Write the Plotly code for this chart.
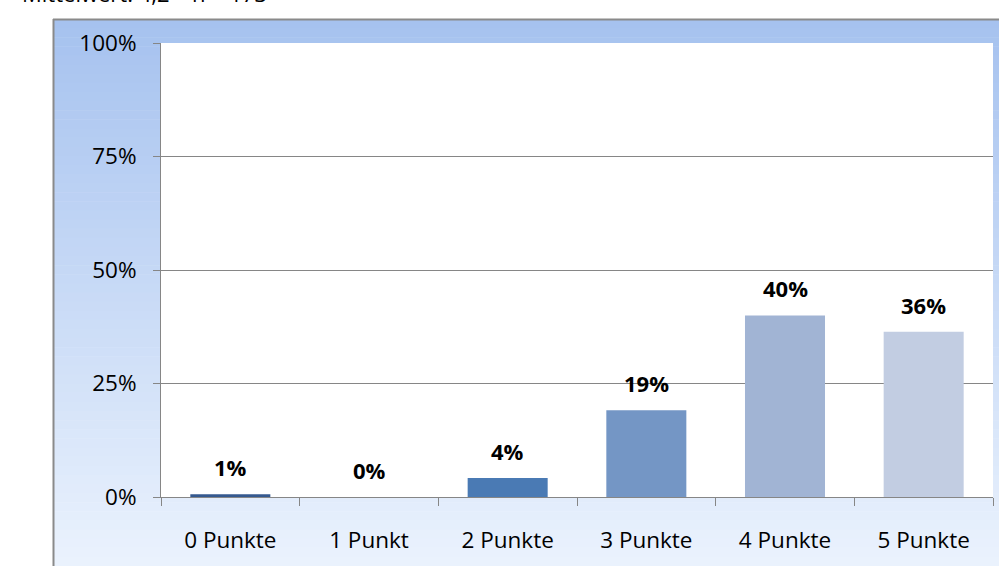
import plotly.graph_objects as go

categories = ["0 Punkte", "1 Punkt", "2 Punkte", "3 Punkte", "4 Punkte", "5 Punkte"]
values = [0.6, 0.0, 4.2, 19.1, 40.0, 36.4]
bar_colors = ["#35598f", "#4a7ab4", "#4a7ab4", "#7496c5", "#a1b4d4", "#c2cde2"]
y_ticks = [0, 25, 50, 75, 100]
y_tick_labels = ["0%", "25%", "50%", "75%", "100%"]
header_text = "Mittelwert: 4,2 \u2013 n = 173"

W, H = 999, 566
L, R, T, B = 161, 6, 43, 69
pw = W - L - R
ph = H - T - B

def px_x(p):
    return (p - L) / pw

def px_y(p):
    return (H - B - p) / ph

FONT = "Open Sans"
TICK_SIZE = 22.5

fig = go.Figure()
fig.add_trace(go.Bar(
    x=categories, y=values,
    marker=dict(color=bar_colors, line=dict(width=0)),
    width=0.577,
    hoverinfo="skip",
))

annotations = []
for c, v in zip(categories, values):
    annotations.append(dict(
        x=c, y=v, xref="x", yref="y", text="<b>%d%%</b>" % round(v),
        showarrow=False, yanchor="middle", yshift=27,
        font=dict(family=FONT, size=22, color="#000000"),
    ))
annotations.append(dict(
    x=px_x(20), y=px_y(-7.5), xref="paper", yref="paper", text=header_text,
    showarrow=False, xanchor="left", yanchor="middle",
    font=dict(family=FONT, size=22, color="#000000"),
))

# background gradient bands
shapes = []
top_c = (0xa6, 0xc2, 0xef)
bot_c = (0xea, 0xf2, 0xfd)
n = 60
y_top, y_bot = 19, 566
for i in range(n):
    t = i / (n - 1)
    col = tuple(int(round(top_c[k] + (bot_c[k] - top_c[k]) * t)) for k in range(3))
    p0 = y_top + (y_bot - y_top) * i / n
    p1 = y_top + (y_bot - y_top) * (i + 1) / n + 0.5
    shapes.append(dict(
        type="rect", xref="paper", yref="paper",
        x0=px_x(53), x1=px_x(1005), y0=px_y(p1), y1=px_y(p0),
        fillcolor="rgb(%d,%d,%d)" % col, line=dict(width=0), layer="below",
    ))
# plot area white
shapes.append(dict(type="rect", xref="paper", yref="paper", x0=0, x1=1, y0=0, y1=1,
                   fillcolor="#ffffff", line=dict(width=0), layer="below"))
# chart area border
shapes.append(dict(type="line", xref="paper", yref="paper",
                   x0=px_x(53), x1=px_x(1005), y0=px_y(19.5), y1=px_y(19.5),
                   line=dict(color="#8a8a8a", width=2), layer="above"))
shapes.append(dict(type="line", xref="paper", yref="paper",
                   x0=px_x(53.5), x1=px_x(53.5), y0=px_y(19), y1=px_y(570),
                   line=dict(color="#8a8a8a", width=2), layer="above"))

fig.update_layout(
    width=W, height=H,
    margin=dict(l=L, r=R, t=T, b=B, pad=0),
    paper_bgcolor="#ffffff",
    plot_bgcolor="rgba(0,0,0,0)",
    showlegend=False,
    bargap=0.423,
    annotations=annotations,
    shapes=shapes,
    font=dict(family=FONT, size=20, color="#000000"),
    xaxis=dict(
        type="category", categoryorder="array", categoryarray=categories,
        showgrid=False, showline=True, linecolor="#868686", linewidth=1,
        ticks="outside", tickson="boundaries", ticklen=8, tickcolor="#868686",
        tickfont=dict(family=FONT, size=TICK_SIZE, color="#000000"),
        ticklabelstandoff=23, zeroline=False,
    ),
    yaxis=dict(
        range=[0, 100], tickmode="array", tickvals=y_ticks, ticktext=y_tick_labels,
        showgrid=True, gridcolor="#868686", gridwidth=1,
        showline=True, linecolor="#868686", linewidth=1,
        ticks="outside", ticklen=7, tickcolor="#868686",
        tickfont=dict(family=FONT, size=TICK_SIZE, color="#000000"),
        ticklabelstandoff=12, zeroline=False,
    ),
)

fig.write_html(
    "out.html",
    config={"displayModeBar": False},
    post_script="document.body.style.margin='0';document.body.style.overflow='hidden';",
)
